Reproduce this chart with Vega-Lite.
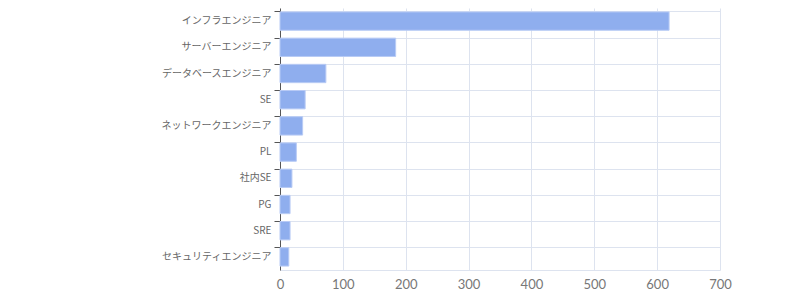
{
  "$schema": "https://vega.github.io/schema/vega-lite/v6.json",
  "width": 440,
  "height": 262,
  "autosize": "none",
  "padding": {"left": 280, "top": 8, "right": 80, "bottom": 30},
  "data": {"values": [
    {"job": "インフラエンジニア", "count": 619},
    {"job": "サーバーエンジニア", "count": 184},
    {"job": "データベースエンジニア", "count": 73},
    {"job": "SE", "count": 40},
    {"job": "ネットワークエンジニア", "count": 36},
    {"job": "PL", "count": 26},
    {"job": "社内SE", "count": 19},
    {"job": "PG", "count": 16},
    {"job": "SRE", "count": 16},
    {"job": "セキュリティエンジニア", "count": 14}
  ]},
  "config": {"view": {"stroke": null}},
  "mark": {"type": "bar", "fill": "#8faeee", "stroke": "#b8cbf5", "strokeWidth": 1},
  "encoding": {
    "y": {
      "field": "job", "type": "nominal", "sort": null,
      "scale": {"paddingInner": 0.3, "paddingOuter": 0.15},
      "axis": {
        "title": null, "bandPosition": 0, "grid": true, "gridColor": "#dde3ef", "gridWidth": 1,
        "domainColor": "#555", "tickColor": "#555", "tickSize": 6, "labelPadding": 3,
        "labelFont": "Noto Sans CJK JP", "labelFontSize": 10, "labelColor": "#666"
      }
    },
    "x": {
      "field": "count", "type": "quantitative",
      "scale": {"domain": [0, 700], "nice": false},
      "axis": {
        "title": null, "values": [0, 100, 200, 300, 400, 500, 600, 700],
        "grid": true, "gridColor": "#dde3ef", "domainColor": "#dde3ef",
        "ticks": false, "labelPadding": 8, "labelFlush": false, "labelOverlap": false,
        "labelFont": "Lato", "labelFontSize": 13, "labelColor": "#777"
      }
    }
  }
}
